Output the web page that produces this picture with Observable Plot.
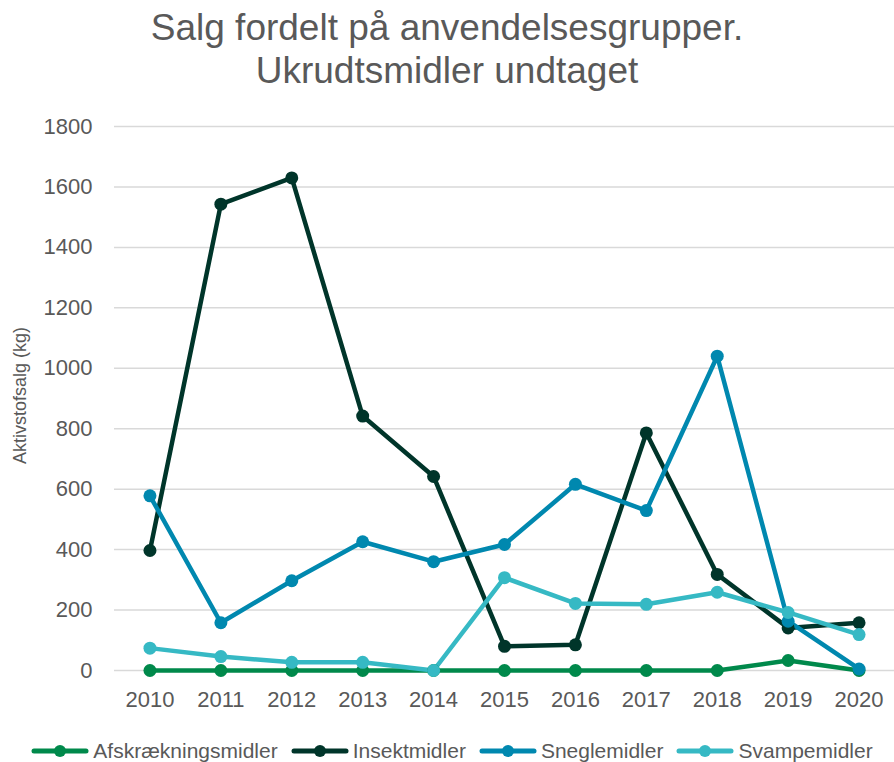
<!DOCTYPE html>
<html>
<head>
<meta charset="utf-8">
<script src="https://cdn.jsdelivr.net/npm/d3@7"></script>
<script src="https://cdn.jsdelivr.net/npm/@observablehq/plot@0.6"></script>
<style>
  html, body { margin: 0; padding: 0; background: #fff; }
  body { width: 894px; height: 762px; font-family: "Liberation Sans", Arial, sans-serif; color: #595959; overflow: hidden; position: relative; }
  #title { position: absolute; left: 0; top: 6px; width: 894px; text-align: center; font-size: 37px; line-height: 43px; color: #595959; }
  #chart { position: absolute; left: 0; top: 100px; }
  #legend { position: absolute; left: 10px; top: 739px; width: 884px; display: flex; justify-content: center; align-items: center; gap: 13px; font-size: 21px; line-height: 24px; color: #595959; }
  .item { display: flex; align-items: center; gap: 4px; }
  .item svg { display: block; }
</style>
</head>
<body>
<div id="title">Salg fordelt på anvendelsesgrupper.<br>Ukrudtsmidler undtaget</div>
<div id="chart"></div>
<div id="legend"></div>
<script>
const years = [2010, 2011, 2012, 2013, 2014, 2015, 2016, 2017, 2018, 2019, 2020];
const seriesNames = ["Afskrækningsmidler", "Insektmidler", "Sneglemidler", "Svampemidler"];
const seriesColors = ["#00894B", "#00352A", "#0088AF", "#36B9C4"];
const afskraekningsmidler = [0, 0, 0, 0, 0, 0, 0, 0, 0, 33, 0];
const insektmidler = [397, 1543, 1630, 842, 642, 80, 85, 786, 318, 141, 158];
const sneglemidler = [578, 158, 297, 426, 360, 417, 616, 529, 1040, 163, 5];
const svampemidler = [74, 46, 27, 27, 0, 307, 222, 219, 259, 192, 119];
const yTicks = [0, 200, 400, 600, 800, 1000, 1200, 1400, 1600, 1800];
const yLabel = "Aktivstofsalg (kg)";

const allValues = [afskraekningsmidler, insektmidler, sneglemidler, svampemidler];
const data = [];
seriesNames.forEach((name, i) => {
  years.forEach((yr, j) => data.push({series: name, year: String(yr), value: allValues[i][j]}));
});

const chart = Plot.plot({
  width: 894,
  height: 620,
  marginLeft: 114,
  marginRight: 0,
  marginTop: 26,
  marginBottom: 50,
  style: {fontFamily: "Liberation Sans, Arial, sans-serif", color: "#595959", background: "#fff"},
  x: {type: "point", domain: years.map(String), padding: 0.5, round: false, label: null},
  y: {domain: [0, 1800], ticks: yTicks, label: null},
  marks: [
    Plot.gridY(yTicks, {stroke: "#d9d9d9", strokeOpacity: 1, strokeWidth: 1.5}),
    Plot.axisY(yTicks, {tickSize: 0, tickPadding: 22, fontSize: 22, fill: "#595959", label: null, tickFormat: d => String(d)}),
    Plot.axisX({tickSize: 0, tickPadding: 21, fontSize: 22, fill: "#595959", label: null}),
    Plot.text([yLabel], {frameAnchor: "left", dx: -94, dy: -3, rotate: -90, fontSize: 18, fill: "#595959", textAnchor: "middle", lineAnchor: "middle"}),
    ...seriesNames.map((name, i) => Plot.line(data.filter(d => d.series === name), {x: "year", y: "value", stroke: seriesColors[i], strokeWidth: 4.5, strokeLinejoin: "round"})),
    ...seriesNames.map((name, i) => Plot.dot(data.filter(d => d.series === name), {x: "year", y: "value", fill: seriesColors[i], r: 6.5}))
  ]
});
document.getElementById("chart").appendChild(chart);

const legend = document.getElementById("legend");
seriesNames.forEach((name, i) => {
  const item = document.createElement("div");
  item.className = "item";
  item.innerHTML = `<svg width="58" height="16"><line x1="3" y1="8" x2="55" y2="8" stroke="${seriesColors[i]}" stroke-width="5" stroke-linecap="round"/><circle cx="29" cy="8" r="6" fill="${seriesColors[i]}"/></svg><span>${name}</span>`;
  legend.appendChild(item);
});
</script>
</body>
</html>
